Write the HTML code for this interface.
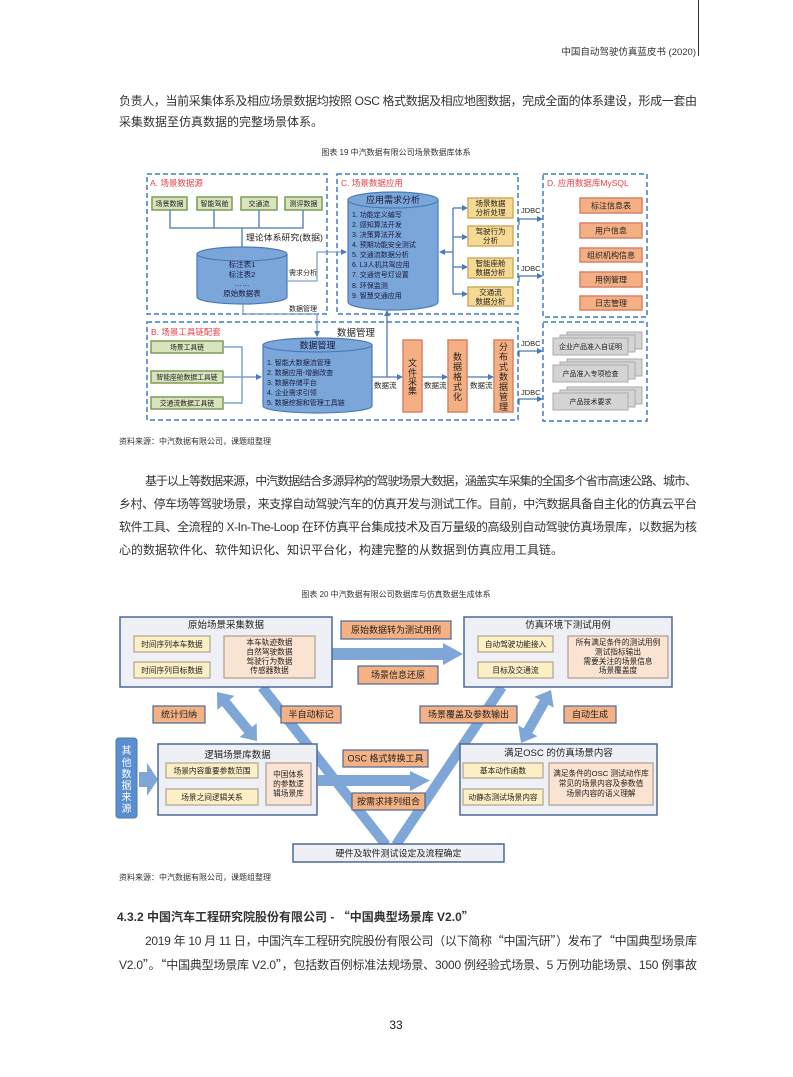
<!DOCTYPE html>
<html><head><meta charset="utf-8"><style>
html,body{margin:0;padding:0;background:#fff;}
svg{display:block;}
text{font-family:"Liberation Sans","Noto Sans CJK SC",sans-serif;}
.q{font-family:"Noto Sans CJK SC",sans-serif;}
</style></head><body>
<svg width="793" height="1077" viewBox="0 0 793 1077" xmlns="http://www.w3.org/2000/svg">
<defs>
<marker id="ar" markerWidth="6" markerHeight="6" refX="5" refY="3" orient="auto" markerUnits="userSpaceOnUse">
<path d="M0,0 L6,3 L0,6 Z" fill="#4a7ab8"/></marker>
</defs>

<!-- header -->
<line x1="698.5" y1="0" x2="698.5" y2="56" stroke="#333" stroke-width="1"/>
<text x="696" y="55" font-size="9.5" fill="#333" text-anchor="end">中国自动驾驶仿真蓝皮书 (2020)</text>

<!-- paragraph 1 -->
<g font-size="12" fill="#333">
<text x="119" y="105" textLength="578" lengthAdjust="spacing">负责人，当前采集体系及相应场景数据均按照 OSC 格式数据及相应地图数据，完成全面的体系建设，形成一套由</text>
<text x="119" y="126">采集数据至仿真数据的完整场景体系。</text>
</g>

<text x="396" y="155" font-size="8" fill="#333" text-anchor="middle">图表 19 中汽数据有限公司场景数据库体系</text>

<!-- ========== FIGURE 19 ========== -->
<g fill="none" stroke="#3d7cc9" stroke-width="1.5" stroke-dasharray="5 3">
<rect x="147" y="174" width="180" height="140"/>
<rect x="337" y="174" width="181" height="140"/>
<rect x="543" y="174" width="104" height="143"/>
<rect x="147" y="322" width="371" height="98"/>
<rect x="543" y="322" width="104" height="99"/>
</g>
<g font-size="8.5" fill="#e8404a">
<text x="150" y="186">A. 场景数据源</text>
<text x="341" y="186">C. 场景数据应用</text>
<text x="547" y="186">D. 应用数据库MySQL</text>
<text x="151" y="335">B. 场景工具链配套</text>
</g>

<!-- A green boxes -->
<g fill="#d8e4bd" stroke="#7f9c55" stroke-width="1.5">
<rect x="152" y="197" width="35" height="13"/>
<rect x="197" y="197" width="35" height="13"/>
<rect x="241" y="197" width="36" height="13"/>
<rect x="285" y="197" width="37" height="13"/>
</g>
<g font-size="7" fill="#222" text-anchor="middle">
<text x="169.5" y="206">场景数据</text>
<text x="214.5" y="206">智能驾舱</text>
<text x="259" y="206">交通流</text>
<text x="303.5" y="206">测评数据</text>
</g>
<g stroke="#5f8bc4" stroke-width="1.5" fill="none">
<path d="M170,210 V228 H303 V210 M214,210 V228 M259,210 V228 M242,228 V247"/>
</g>
<text x="246" y="240.5" font-size="8.5" fill="#222" textLength="77" lengthAdjust="spacingAndGlyphs">理论体系研究(数据)</text>

<!-- cylinder A -->
<path d="M197,254 L197,297 A45,7 0 0,0 287,297 L287,254 Z" fill="#7aa6da" stroke="#4a7ab8" stroke-width="1.2"/>
<ellipse cx="242" cy="254" rx="45" ry="7" fill="#7aa6da" stroke="#4a7ab8" stroke-width="1.2"/>
<g font-size="7.5" fill="#1a1a3a" text-anchor="middle">
<text x="242" y="267">标注表1</text>
<text x="242" y="277">标注表2</text>
<text x="242" y="286">……</text>
<text x="242" y="296">原始数据表</text>
</g>
<text x="289" y="275" font-size="7" fill="#222">需求分析</text>
<text x="289" y="311" font-size="7" fill="#222">数据管理</text>
<g stroke="#7ba0d0" stroke-width="1.3" fill="none">
<path d="M287,281 H317 V252 H346" marker-end="url(#ar)"/>
<path d="M243,304 V314 H317 V336" marker-end="url(#ar)"/>
</g>

<!-- cylinder C -->
<path d="M348,200 L348,302 A45,8 0 0,0 438,302 L438,200 Z" fill="#7aa6da" stroke="#4a7ab8" stroke-width="1.2"/>
<ellipse cx="393" cy="200" rx="45" ry="8" fill="#7aa6da" stroke="#4a7ab8" stroke-width="1.2"/>
<text x="393" y="203" font-size="9" fill="#1a1a3a" text-anchor="middle">应用需求分析</text>
<g font-size="7" fill="#1a1a3a">
<text x="352" y="217">1.  功能定义编写</text>
<text x="352" y="227">2.  感知算法开发</text>
<text x="352" y="237">3.  决策算法开发</text>
<text x="352" y="247">4.  预期功能安全测试</text>
<text x="352" y="257">5.  交通流数据分析</text>
<text x="352" y="267">6.  L3人机共驾应用</text>
<text x="352" y="277">7.  交通信号灯设置</text>
<text x="352" y="288">8.  环保监测</text>
<text x="352" y="298">9.  智慧交通应用</text>
</g>
<g stroke="#4a7ab8" stroke-width="1.3" fill="none">
<path d="M453,208 V294"/>
<path d="M453,252 H440" marker-end="url(#ar)"/>
<path d="M453,208 H467" marker-end="url(#ar)"/>
<path d="M453,237 H467" marker-end="url(#ar)"/>
<path d="M453,267 H467" marker-end="url(#ar)"/>
<path d="M453,294 H467" marker-end="url(#ar)"/>
</g>
<g fill="#f6d993" stroke="#cfae5e" stroke-width="1.5">
<rect x="468" y="198" width="45" height="20"/>
<rect x="468" y="226" width="45" height="20"/>
<rect x="468" y="258" width="45" height="20"/>
<rect x="468" y="287" width="45" height="19"/>
</g>
<g font-size="7.5" fill="#222" text-anchor="middle">
<text x="490.5" y="206">场景数据</text><text x="490.5" y="215">分析处理</text>
<text x="490.5" y="234">驾驶行为</text><text x="490.5" y="243">分析</text>
<text x="490.5" y="266">智能座舱</text><text x="490.5" y="275">数据分析</text>
<text x="490.5" y="295">交通流</text><text x="490.5" y="304">数据分析</text>
</g>

<!-- JDBC -->
<g font-size="7.5" fill="#222">
<text x="521" y="213">JDBC</text>
<text x="521" y="271">JDBC</text>
<text x="521" y="346">JDBC</text>
<text x="521" y="395">JDBC</text>
</g>
<g stroke="#4a7ab8" stroke-width="1.3" fill="none">
<path d="M519,225 V219 H542" marker-end="url(#ar)"/>
<path d="M519,282 V276 H542" marker-end="url(#ar)"/>
<path d="M519,357 V351 H542" marker-end="url(#ar)"/>
<path d="M519,405 V399 H542" marker-end="url(#ar)"/>
</g>

<!-- D orange -->
<g fill="#f4b083" stroke="#d9826a" stroke-width="1.5">
<rect x="580" y="198" width="62" height="15"/>
<rect x="580" y="223" width="62" height="15"/>
<rect x="580" y="248" width="62" height="14"/>
<rect x="580" y="272" width="62" height="15"/>
<rect x="580" y="296" width="62" height="14"/>
</g>
<g font-size="8" fill="#222" text-anchor="middle">
<text x="611" y="208.5">标注信息表</text>
<text x="611" y="233.5">用户信息</text>
<text x="611" y="258">组织机构信息</text>
<text x="611" y="282.5">用例管理</text>
<text x="611" y="306">日志管理</text>
</g>

<!-- E docs -->
<g fill="#d4d4d4" stroke="#ababab" stroke-width="1">
<rect x="567" y="332" width="75" height="17"/><rect x="560" y="335" width="75" height="17"/><rect x="553" y="338" width="75" height="17"/>
<rect x="567" y="359" width="75" height="17"/><rect x="560" y="362" width="75" height="17"/><rect x="553" y="365" width="75" height="17"/>
<rect x="567" y="387" width="75" height="17"/><rect x="560" y="390" width="75" height="17"/><rect x="553" y="393" width="75" height="17"/>
</g>
<g font-size="7" fill="#222" text-anchor="middle">
<text x="590.5" y="349">企业产品准入自证明</text>
<text x="590.5" y="376">产品准入专项检查</text>
<text x="590.5" y="404">产品技术要求</text>
</g>

<!-- B -->
<g fill="#d8e4bd" stroke="#7f9c55" stroke-width="1.5">
<rect x="151" y="341" width="72" height="12"/>
<rect x="151" y="371" width="72" height="12"/>
<rect x="151" y="397" width="72" height="12"/>
</g>
<g font-size="6.8" fill="#222" text-anchor="middle">
<text x="187" y="349.5">场景工具链</text>
<text x="187" y="379.5">智能座舱数据工具链</text>
<text x="187" y="405.5">交通流数据工具链</text>
</g>
<g stroke="#7ba0d0" stroke-width="1.4" fill="none">
<path d="M223,347 H242 V403 H223"/>
<path d="M223,377 H261" marker-end="url(#ar)"/>
</g>
<text x="337" y="336" font-size="9.5" fill="#222">数据管理</text>
<path d="M263,345 L263,406 A54.5,7 0 0,0 372,406 L372,345 Z" fill="#7aa6da" stroke="#4a7ab8" stroke-width="1.2"/>
<ellipse cx="317.5" cy="345" rx="54.5" ry="7" fill="#7aa6da" stroke="#4a7ab8" stroke-width="1.2"/>
<text x="317.5" y="348.5" font-size="9" fill="#1a1a3a" text-anchor="middle">数据管理</text>
<g font-size="7" fill="#1a1a3a">
<text x="267" y="365">1. 智能大数据流管理</text>
<text x="267" y="375">2. 数据应用-增删改查</text>
<text x="267" y="385">3. 数据存储平台</text>
<text x="267" y="395">4. 企业需求引领</text>
<text x="267" y="405">5. 数据挖掘和管理工具链</text>
</g>
<g stroke="#4a7ab8" stroke-width="1.3" fill="none">
<path d="M372,377 H402" marker-end="url(#ar)"/>
<path d="M387,377 V311" marker-end="url(#ar)"/>
<path d="M422,377 H447" marker-end="url(#ar)"/>
<path d="M467,377 H493" marker-end="url(#ar)"/>
</g>
<g font-size="7.5" fill="#222">
<text x="374" y="388">数据流</text>
<text x="424" y="388">数据流</text>
<text x="470" y="388">数据流</text>
</g>
<g fill="#f4b083" stroke="#d9826a" stroke-width="1.5">
<rect x="403" y="340" width="19" height="72"/>
<rect x="448" y="340" width="19" height="72"/>
<rect x="494" y="340" width="19" height="72"/>
</g>
<g font-size="9" fill="#222" text-anchor="middle">
<text x="412.5" y="366">文</text><text x="412.5" y="376">件</text><text x="412.5" y="385">采</text><text x="412.5" y="394">集</text>
<text x="457.5" y="360">数</text><text x="457.5" y="370">据</text><text x="457.5" y="380">格</text><text x="457.5" y="390">式</text><text x="457.5" y="400">化</text>
<text x="503.5" y="350">分</text><text x="503.5" y="360">布</text><text x="503.5" y="370">式</text><text x="503.5" y="380">数</text><text x="503.5" y="390">据</text><text x="503.5" y="400">管</text><text x="503.5" y="410">理</text>
</g>

<text x="119" y="444" font-size="8" fill="#333">资料来源：中汽数据有限公司，课题组整理</text>

<!-- paragraph 2 -->
<g font-size="12" fill="#333">
<text x="145" y="485" textLength="552" lengthAdjust="spacing">基于以上等数据来源，中汽数据结合多源异构的驾驶场景大数据，涵盖实车采集的全国多个省市高速公路、城市、</text>
<text x="119" y="508" textLength="578" lengthAdjust="spacing">乡村、停车场等驾驶场景，来支撑自动驾驶汽车的仿真开发与测试工作。目前，中汽数据具备自主化的仿真云平台</text>
<text x="119" y="531" textLength="578" lengthAdjust="spacing">软件工具、全流程的 X-In-The-Loop 在环仿真平台集成技术及百万量级的高级别自动驾驶仿真场景库，以数据为核</text>
<text x="119" y="554">心的数据软件化、软件知识化、知识平台化，构建完整的从数据到仿真应用工具链。</text>
</g>

<text x="396" y="597" font-size="8" fill="#333" text-anchor="middle">图表 20 中汽数据有限公司数据库与仿真数据生成体系</text>

<!-- ========== FIGURE 20 ========== -->
<g fill="#7ea7d8">
<polygon points="332,648 443,648 443,643 463,654 443,665 443,660 332,660"/>
<polygon points="217,692 217.3,709.8 222,706 244.3,733.3 239.6,737.1 257,741 256.7,723.2 252,727 229.7,699.7 234.4,695.9"/>
<polygon points="551,690 534.5,696.8 539.8,699.7 523.6,728.4 518.3,725.4 521,743 537.5,736.2 532.3,733.3 548.5,704.7 553.7,707.6"/>
<polygon points="318,775 410,775 410,771 430,780.5 410,791 410,786 318,786"/>
<polygon points="139,772 147,772 147,763 158,779.5 147,796 147,787 139,787"/>
</g>
<g stroke="#7ea7d8" stroke-width="10" fill="none">
<line x1="262" y1="687" x2="386" y2="845"/>
<line x1="502" y1="687" x2="396" y2="845"/>
</g>

<!-- big boxes -->
<g fill="#eef0f5" stroke="#4b6896" stroke-width="1.5">
<rect x="120" y="617" width="212" height="70"/>
<rect x="464" y="617" width="208" height="70"/>
<rect x="158" y="744" width="159" height="71"/>
<rect x="460" y="744" width="197" height="71"/>
<rect x="293" y="844" width="211" height="18"/>
</g>
<g font-size="9.5" fill="#222" text-anchor="middle">
<text x="226" y="628">原始场景采集数据</text>
<text x="568" y="628">仿真环境下测试用例</text>
<text x="237.5" y="758">逻辑场景库数据</text>
<text x="558.5" y="756">满足OSC 的仿真场景内容</text>
</g>
<text x="398.5" y="856.5" font-size="9" fill="#222" text-anchor="middle">硬件及软件测试设定及流程确定</text>

<g fill="#fcefc6" stroke="#b3ab94" stroke-width="1.3">
<rect x="134" y="636" width="76" height="16"/>
<rect x="134" y="662" width="76" height="16"/>
<rect x="478" y="636" width="75" height="16"/>
<rect x="478" y="662" width="75" height="16"/>
<rect x="166" y="763" width="92" height="15"/>
<rect x="166" y="789" width="92" height="16"/>
<rect x="463" y="763" width="80" height="15"/>
<rect x="463" y="789" width="80" height="16"/>
</g>
<g fill="#fbe3d1" stroke="#b3a396" stroke-width="1.3">
<rect x="224" y="636" width="91" height="42"/>
<rect x="568" y="636" width="100" height="42"/>
<rect x="266" y="763" width="45" height="42"/>
<rect x="549" y="763" width="104" height="42"/>
</g>
<g font-size="7.7" fill="#222" text-anchor="middle">
<text x="172" y="647">时间序列本车数据</text>
<text x="172" y="673">时间序列目标数据</text>
<text x="515.5" y="647">自动驾驶功能接入</text>
<text x="515.5" y="673">目标及交通流</text>
<text x="212" y="773.5">场景内容重要参数范围</text>
<text x="212" y="800">场景之间逻辑关系</text>
<text x="503" y="773.5">基本动作函数</text>
<text x="503" y="800">动静态测试场景内容</text>
<text x="269.5" y="645">本车轨迹数据</text>
<text x="269.5" y="654.5">自然驾驶数据</text>
<text x="269.5" y="664">驾驶行为数据</text>
<text x="269.5" y="673">传感器数据</text>
<text x="618" y="645">所有满足条件的测试用例</text>
<text x="618" y="654.5">测试指标输出</text>
<text x="618" y="664">需要关注的场景信息</text>
<text x="618" y="673">场景覆盖度</text>
<text x="288.5" y="777">中国体系</text>
<text x="288.5" y="786.5">的参数逻</text>
<text x="288.5" y="796">辑场景库</text>
<text x="601" y="776">满足条件的OSC 测试动作库</text>
<text x="601" y="786">常见的场景内容及参数值</text>
<text x="601" y="796">场景内容的语义理解</text>
</g>

<!-- orange labels -->
<g fill="#f4b183" stroke="#4b6896" stroke-width="1.2">
<rect x="341" y="621" width="110" height="18"/>
<rect x="358" y="666" width="80" height="18"/>
<rect x="153" y="706" width="52" height="17"/>
<rect x="281" y="706" width="60" height="17"/>
<rect x="420" y="706" width="97" height="17"/>
<rect x="564" y="706" width="52" height="17"/>
<rect x="343" y="750" width="85" height="17"/>
<rect x="352" y="793" width="73" height="17"/>
</g>
<g font-size="9" fill="#222" text-anchor="middle">
<text x="396" y="633">原始数据转为测试用例</text>
<text x="398" y="678">场景信息还原</text>
<text x="179" y="717.5">统计归纳</text>
<text x="311" y="717.5">半自动标记</text>
<text x="468.5" y="717.5">场景覆盖及参数输出</text>
<text x="590" y="717.5">自动生成</text>
<text x="385.5" y="761.5">OSC 格式转换工具</text>
<text x="388.5" y="804.5">按需求排列组合</text>
</g>

<!-- other data source -->
<rect x="116" y="738" width="21" height="80" rx="3" fill="#5b8ed0" stroke="#4a78b8" stroke-width="1"/>
<g font-size="10" fill="#fff" text-anchor="middle">
<text x="126.5" y="754">其</text>
<text x="126.5" y="766">他</text>
<text x="126.5" y="777.5">数</text>
<text x="126.5" y="789">据</text>
<text x="126.5" y="800.5">来</text>
<text x="126.5" y="812">源</text>
</g>

<text x="119" y="880" font-size="8" fill="#333">资料来源：中汽数据有限公司，课题组整理</text>

<!-- section 4.3.2 -->
<text x="117" y="921" font-size="12" font-weight="bold" fill="#333">4.3.2 中国汽车工程研究院股份有限公司 - <tspan class="q">“</tspan>中国典型场景库 V2.0<tspan class="q">”</tspan></text>
<g font-size="12" fill="#333">
<text x="145" y="945" textLength="552" lengthAdjust="spacing">2019 年 10 月 11 日，中国汽车工程研究院股份有限公司（以下简称<tspan class="q">“</tspan>中国汽研<tspan class="q">”</tspan>）发布了<tspan class="q">“</tspan>中国典型场景库</text>
<text x="119" y="969" textLength="578" lengthAdjust="spacing">V2.0<tspan class="q">”</tspan>。<tspan class="q">“</tspan>中国典型场景库 V2.0<tspan class="q">”</tspan>，包括数百例标准法规场景、3000 例经验式场景、5 万例功能场景、150 例事故</text>
</g>

<text x="396" y="1029" font-size="12" fill="#222" text-anchor="middle">33</text>
</svg>
</body></html>
